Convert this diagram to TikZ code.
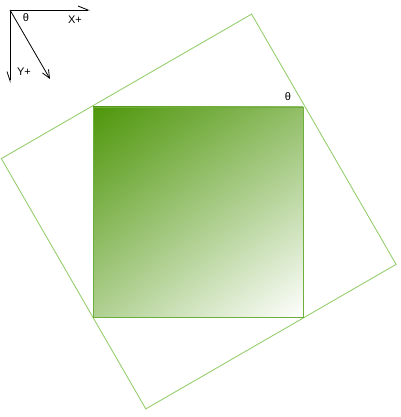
\documentclass[tikz,border=0pt]{standalone}
\usepackage{fontspec}
\setsansfont{Liberation Sans}
\usetikzlibrary{arrows.meta, shadings}
\definecolor{leafgreen}{RGB}{78,150,10}
\definecolor{palegreen}{RGB}{150,205,110}
\definecolor{edgegreen}{RGB}{110,175,60}

\begin{document}
\begin{tikzpicture}[x=1pt, y=-1pt]
    \tikzstyle{axis_style} = [black, line width=0.8pt]
    \tikzstyle{axis_label} = [font=\sffamily\fontsize{11}{13}\selectfont, inner sep=0pt]

    \def\frameside{289}
    \def\angle{30}
    \def\cx{198.7}
    \def\cy{211.5}

    \useasboundingbox (0,0) rectangle (400,417);

    % axes in the corner
    \coordinate (O) at (10,10);
    \coordinate (XE) at (90,10);
    \coordinate (YE) at (10,83);
    \coordinate (RE) at (50,79);
    \draw[axis_style, -{Straight Barb[harpoon, length=10pt, width=8pt]}] (O) -- (XE);
    \draw[axis_style, -{Straight Barb[harpoon, swap, length=9pt, width=6pt]}] (O) -- (YE);
    \draw[axis_style, -{Straight Barb[length=8pt, width=7pt]}] (O) -- (RE);
    \node[axis_label] (xlab) at (75,20) {X+};
    \node[axis_label] (ylab) at (24,72) {Y+};
    \node[axis_label] (thetaA) at (26,18) {θ};

    % rotated frame
    \begin{scope}[shift={(\cx,\cy)}, rotate=\angle]
      \pgfmathsetmacro{\half}{\frameside/2}
      \draw[palegreen, line width=0.9pt] (-\half,-\half) rectangle (\half,\half);
    \end{scope}

    % shaded square
    \shade[upper left=leafgreen, lower right=white,
           upper right=leafgreen!62!white, lower left=leafgreen!45!white]
      (93,107) rectangle (303,317);
    \draw[edgegreen, line width=0.9pt] (93,107) rectangle (303,317);
    \node[axis_label] (thetaB) at (288,97) {θ};
\end{tikzpicture}
\end{document}
